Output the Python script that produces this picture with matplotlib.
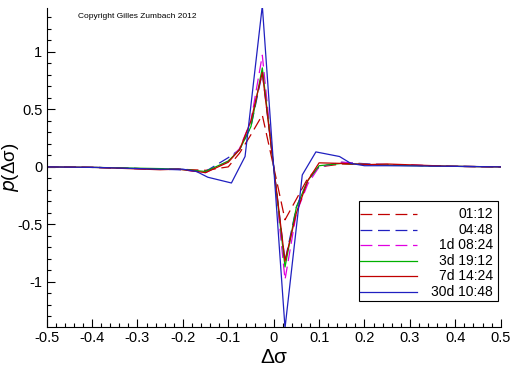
import numpy as np
import matplotlib
matplotlib.use("Agg")
import matplotlib.pyplot as plt
from matplotlib.patches import Rectangle
from matplotlib.ticker import MultipleLocator, FuncFormatter

plt.rcParams['font.family'] = ['Liberation Sans', 'DejaVu Sans']
plt.rcParams['axes.unicode_minus'] = False

# common grid for the short horizons
x_grid = [-0.5, -0.39, -0.25, -0.21, -0.15, -0.1, -0.075, -0.05, -0.025, 0.0,
          0.025, 0.05, 0.075, 0.1, 0.15, 0.21, 0.25, 0.39, 0.5]

p_0112 = [0, -0.005, -0.02, -0.02, -0.03, 0.0, 0.12, 0.28, 0.45, 0.0,
          -0.46, -0.28, -0.1, 0.0, 0.025, 0.02, 0.02, 0.005, 0]
p_0448 = [0, -0.005, -0.02, -0.025, -0.04, 0.08, 0.15, 0.35, 0.82, 0.0,
          -0.82, -0.35, -0.12, 0.0, 0.04, 0.025, 0.02, 0.005, 0]
p_1d = [0, -0.005, -0.02, -0.02, -0.05, 0.05, 0.16, 0.40, 0.97, 0.0,
        -0.98, -0.40, -0.15, 0.0, 0.04, 0.02, 0.02, 0.005, 0]
p_3d = [0, -0.005, -0.015, -0.02, -0.04, 0.05, 0.15, 0.35, 0.86, 0.0,
        -0.87, -0.35, -0.12, 0.01, 0.03, 0.02, 0.015, 0.005, 0]
p_7d = [0, -0.005, -0.025, -0.02, -0.05, 0.04, 0.15, 0.40, 0.82, 0.0,
        -0.82, -0.40, -0.12, 0.035, 0.03, 0.02, 0.025, 0.005, 0]

# the 30d curve sits on its own grid
x_30d = [-0.5, -0.39, -0.25, -0.2, -0.17, -0.145, -0.093, -0.063, -0.025, 0.0,
         0.025, 0.063, 0.093, 0.145, 0.17, 0.2, 0.25, 0.39, 0.5]
p_30d = [0, -0.005, -0.02, -0.02, -0.04, -0.09, -0.14, 0.09, 1.40, 0.0,
         -1.40, -0.07, 0.13, 0.09, 0.03, 0.01, 0.01, 0.005, 0]

labels = ['01:12', '04:48', '1d 08:24', '3d 19:12', '7d 14:24', '30d 10:48']

dark_red = '#c00000'
blue = '#2020c0'
dash = (9.5, 4.5)

fig = plt.figure(figsize=(5.12, 3.66), dpi=100)
ax = fig.add_axes([0.091, 0.107, 0.887, 0.871])

series = [
    (x_grid, p_0112, dark_red, dash),
    (x_grid, p_0448, blue, dash),
    (x_grid, p_1d, '#e000e0', dash),
    (x_grid, p_3d, '#00b000', None),
    (x_grid, p_7d, dark_red, None),
    (x_30d, p_30d, blue, None),
]

for xs, ys, c, d in series:
    line, = ax.plot(xs, ys, color=c, lw=0.9)
    if d:
        line.set_dashes(d)

ax.set_xlim(-0.5, 0.5)
ax.set_ylim(-1.39, 1.38)

for s in ['top', 'right']:
    ax.spines[s].set_visible(False)
ax.spines['left'].set_linewidth(0.8)
ax.spines['bottom'].set_linewidth(0.8)

ax.xaxis.set_major_locator(MultipleLocator(0.1))
ax.xaxis.set_minor_locator(MultipleLocator(0.02))
ax.yaxis.set_major_locator(MultipleLocator(0.5))
ax.yaxis.set_minor_locator(MultipleLocator(0.1))
fmt = FuncFormatter(lambda v, _: ('%g' % round(v, 3)))
ax.xaxis.set_major_formatter(fmt)
ax.yaxis.set_major_formatter(fmt)
ax.tick_params(which='major', direction='in', length=6, width=0.8, labelsize=10.5, pad=3)
ax.tick_params(which='minor', direction='in', length=3, width=0.8)

ax.set_xlabel('Δσ', fontsize=15, labelpad=2)
ax.set_ylabel('$p$(Δσ)', fontsize=13.5)
ax.yaxis.set_label_coords(-0.056, 0.5)

ax.text(0.07, 0.975, 'Copyright Gilles Zumbach 2012', transform=ax.transAxes,
        fontsize=6, ha='left', va='center')

# legend box with right-aligned labels
ax.add_patch(Rectangle((0.687, 0.082), 0.306, 0.313, transform=ax.transAxes,
                       facecolor='white', edgecolor='black', lw=0.8, zorder=5))
for i, (lab, (xs, ys, c, d)) in enumerate(zip(labels, series)):
    yy = 0.353 - i * 0.0486
    hl, = ax.plot([0.691, 0.815], [yy, yy], color=c, lw=0.9,
                  transform=ax.transAxes, zorder=6, clip_on=False)
    if d:
        hl.set_dashes(d)
    ax.text(0.983, yy, lab, transform=ax.transAxes, ha='right', va='center',
            fontsize=10, zorder=6)

fig.savefig('out.png', dpi=100)
